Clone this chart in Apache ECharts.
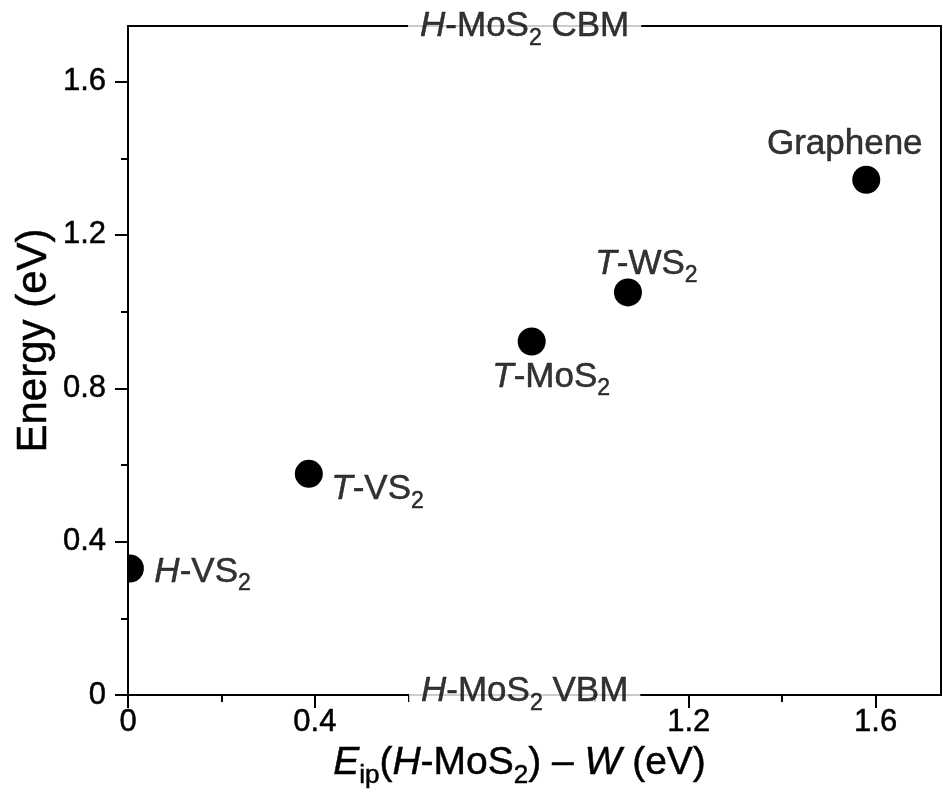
<!DOCTYPE html>
<html>
<head>
<meta charset="utf-8">
<script src="https://cdn.jsdelivr.net/npm/echarts@6/dist/echarts.min.js"></script>
<style>
  html, body { margin: 0; background: #fff; }
  #chart { width: 943px; height: 799px; }
</style>
</head>
<body>
<div id="chart"></div>
<script>
// data
var names = ['H-VS2', 'T-VS2', 'T-MoS2', 'T-WS2', 'Graphene']
var xValues = [0.004, 0.387, 0.864, 1.07, 1.58]
var yValues = [0.33, 0.577, 0.922, 1.05, 1.344]

var xMax = 1.74
var yMax = 1.745
var xTicks = [0, 0.4, 1.2, 1.6] // 0.8 sits under the VBM label
var xTickLabels = [0, 0.4, 1.2, 1.6]
var yTicks = [0, 0.4, 0.8, 1.2, 1.6]

// band edges written on the frame
var bandNames = ['H-MoS2 VBM', 'H-MoS2 CBM']
var bandY = [0, yMax]
var bandX = 0.85

var font = 'Liberation Sans, Arial, Helvetica, sans-serif'

// label placement (pixels, relative to the dot)
var labelPlace = [
  { pos: [25, 4], align: 'left' },
  { pos: [23, 16], align: 'left' },
  { pos: [20, 36], align: 'center' },
  { pos: [19, -28], align: 'center' },
  { pos: [-21, -35], align: 'center' }
]
var bandPlace = [[0, -3], [0, 1]]

// 'T-MoS2' -> italic T, subscript 2
function toRich (s) {
  var m = s.match(/^([HT])-(\D+)(\d)(.*)$/)
  if (!m) return '{n|' + s + '}'
  return '{i|' + m[1] + '}{n|-' + m[2] + '}{s|' + m[3] + '}' + (m[4] ? '{n|' + m[4] + '}' : '')
}

function richStyles (size) {
  var sub = Math.round(size * 0.66)
  var lh = Math.round(size * 1.33)
  var ink = { color: '#000', textBorderColor: '#000', textBorderWidth: 0.5, fontFamily: font }
  return {
    n: Object.assign({ fontSize: size, lineHeight: lh }, ink),
    i: Object.assign({ fontSize: size, lineHeight: lh, fontStyle: 'italic' }, ink),
    s: Object.assign({ fontSize: sub, lineHeight: sub, verticalAlign: 'bottom' }, ink)
  }
}

var black = { color: '#000', width: 2 }
var tickText = { fontSize: 31, fontFamily: font, color: '#000', textBorderColor: '#000', textBorderWidth: 0.5 }

var chart = echarts.init(document.getElementById('chart'))

var option = {
  backgroundColor: '#fff',
  animation: false,
  grid: {
    left: 128,
    right: 2,
    top: 26,
    bottom: 104,
    show: true,
    borderColor: '#000',
    borderWidth: 2,
    containLabel: false,
    outerBoundsMode: 'none'
  },
  xAxis: {
    type: 'value',
    min: 0,
    max: xMax,
    interval: 0.4,
    axisLine: { show: true, lineStyle: black },
    axisTick: { show: true, length: 13, lineStyle: black, customValues: xTicks },
    minorTick: { show: true, splitNumber: 2, length: 7, lineStyle: black },
    splitLine: { show: false },
    axisLabel: Object.assign({ customValues: xTickLabels, margin: 12 }, tickText),
    name: '{i|E}{s|ip}{n|(}{i|H}{n|-MoS}{s|2}{n|) \u2013 }{i|W}{n| (eV)}',
    nameLocation: 'middle',
    nameGap: 42,
    nameMoveOverlap: false,
    nameTextStyle: { padding: [0, 30, 0, 0], rich: richStyles(39) }
  },
  yAxis: {
    type: 'value',
    min: 0,
    max: yMax,
    interval: 0.4,
    axisLine: { show: true, lineStyle: black },
    axisTick: { show: true, length: 13, lineStyle: black, customValues: yTicks },
    minorTick: { show: true, splitNumber: 2, length: 7, lineStyle: black },
    splitLine: { show: false },
    axisLabel: Object.assign({ customValues: yTicks, margin: 22 }, tickText),
    name: 'Energy (eV)',
    nameLocation: 'middle',
    nameGap: 73,
    nameRotate: 90,
    nameMoveOverlap: false,
    nameTextStyle: {
      fontSize: 42, fontFamily: font, color: '#000',
      textBorderColor: '#000', textBorderWidth: 0.5,
      padding: [0, 0, 0, 40]
    }
  },
  series: [
    {
      // dots, clipped to the frame like the half dot on the y axis
      type: 'custom',
      clip: true,
      data: xValues.map(function (x, i) { return [x, yValues[i]] }),
      renderItem: function (params, api) {
        var p = api.coord([api.value(0), api.value(1)])
        return { type: 'circle', shape: { cx: p[0], cy: p[1], r: 14 }, style: { fill: '#000' } }
      }
    },
    {
      // point names
      type: 'scatter',
      symbolSize: 1,
      silent: true,
      itemStyle: { color: 'transparent' },
      data: xValues.map(function (x, i) {
        return {
          value: [x, yValues[i]],
          label: { position: labelPlace[i].pos, align: labelPlace[i].align }
        }
      }),
      label: {
        show: true,
        color: '#000',
        verticalAlign: 'middle',
        formatter: function (p) { return toRich(names[p.dataIndex]) },
        rich: richStyles(35)
      }
    },
    {
      // band labels sitting on the frame, white box breaks the line
      type: 'scatter',
      symbolSize: 1,
      silent: true,
      clip: false,
      z: 10,
      itemStyle: { color: 'transparent' },
      data: bandY.map(function (y, i) {
        return { value: [bandX, y], label: { position: bandPlace[i] } }
      }),
      label: {
        show: true,
        color: '#000',
        align: 'center',
        verticalAlign: 'middle',
        backgroundColor: '#fff',
        padding: [2, 12],
        formatter: function (p) { return toRich(bandNames[p.dataIndex]) },
        rich: richStyles(35)
      }
    }
  ]
}

chart.setOption(option)
</script>
</body>
</html>
